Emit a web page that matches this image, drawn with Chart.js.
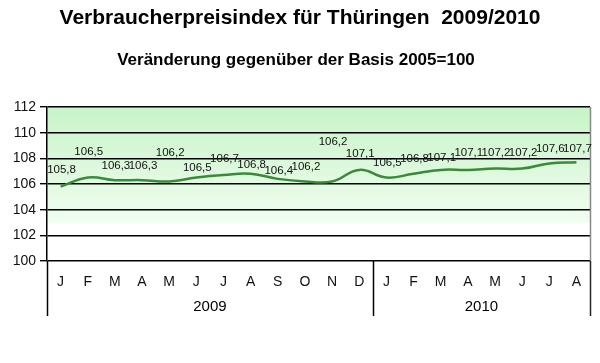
<!DOCTYPE html>
<html>
<head>
<meta charset="utf-8">
<script src="https://cdn.jsdelivr.net/npm/chart.js@4"></script>
<style>
    html, body { margin: 0; padding: 0; background: #fff; }
    #wrap { width: 600px; height: 363px; }
</style>
</head>
<body>
<div id="wrap"><canvas id="cpiChart" width="600" height="363"></canvas></div>
<script>
// Verbraucherpreisindex Thüringen, Basis 2005=100
const months = ['J', 'F', 'M', 'A', 'M', 'J', 'J', 'A', 'S', 'O', 'N', 'D',
                'J', 'F', 'M', 'A', 'M', 'J', 'J', 'A'];
const years = ['2009', '2010'];
const monthsPerYear = [12, 8];
const indexValues = [105.8, 106.5, 106.3, 106.3, 106.2, 106.5, 106.7, 106.8, 106.4, 106.2, 106.2, 107.1,
                     106.5, 106.8, 107.1, 107.1, 107.2, 107.2, 107.6, 107.7];
const yTicks = [100, 102, 104, 106, 108, 110, 112];

const titleText = 'Verbraucherpreisindex für Thüringen  2009/2010';
const subtitleText = 'Veränderung gegenüber der Basis 2005=100';

// how far each value label sits above its point (px)
const labelLift = [17, 26, 14, 14, 29, 10, 16, 9, 8, 15, 40, 16, 15, 15, 12, 17, 16, 16, 15, 13];

const decorPlugin = {
    id: 'decor',
    beforeDraw(chart) {
        const ctx = chart.ctx;
        const area = chart.chartArea;
        const y = chart.scales.y;
        const fadeEnd = y.getPixelForValue(103);
        const grad = ctx.createLinearGradient(0, area.top, 0, fadeEnd);
        grad.addColorStop(0, '#c7f4c7');
        grad.addColorStop(1, '#f1fdf1');
        ctx.save();
        ctx.fillStyle = grad;
        ctx.fillRect(area.left, area.top, area.right - area.left, fadeEnd - area.top);
        ctx.restore();
    },
    afterDraw(chart) {
        const ctx = chart.ctx;
        const area = chart.chartArea;
        const x = chart.scales.x;
        const half = (x.getPixelForValue(1) - x.getPixelForValue(0)) / 2;
        const bottom = 316;

        ctx.save();
        // titles
        ctx.fillStyle = '#000';
        ctx.textAlign = 'center';
        ctx.textBaseline = 'middle';
        ctx.font = 'bold 21px "Liberation Sans", Arial, sans-serif';
        ctx.fillText(titleText, 300, 18);
        ctx.font = 'bold 17px "Liberation Sans", Arial, sans-serif';
        ctx.fillText(subtitleText, 296, 60);

        // year groups with separators
        ctx.strokeStyle = '#000';
        ctx.lineWidth = 1.5;
        ctx.font = '15px "Liberation Sans", Arial, sans-serif';
        let start = 0;
        years.forEach((yr, i) => {
            const x0 = x.getPixelForValue(start) - half;
            const x1 = x.getPixelForValue(start + monthsPerYear[i] - 1) + half;
            ctx.beginPath();
            ctx.moveTo(Math.round(x0) + 0.5, area.bottom);
            ctx.lineTo(Math.round(x0) + 0.5, bottom);
            ctx.stroke();
            ctx.fillText(yr, (x0 + x1) / 2, 307);
            start += monthsPerYear[i];
        });
        const xEnd = Math.round(area.right) + 0.5;
        ctx.strokeStyle = '#888';
        ctx.beginPath();
        ctx.moveTo(xEnd, area.top);
        ctx.lineTo(xEnd, area.bottom);
        ctx.stroke();
        ctx.strokeStyle = '#222';
        ctx.beginPath();
        ctx.moveTo(xEnd, area.bottom);
        ctx.lineTo(xEnd, bottom);
        ctx.stroke();

        // value labels
        const meta = chart.getDatasetMeta(0);
        ctx.font = '11.5px "Liberation Sans", Arial, sans-serif';
        ctx.fillStyle = '#111';
        meta.data.forEach((pt, i) => {
            const txt = indexValues[i].toFixed(1).replace('.', ',');
            ctx.fillText(txt, pt.x + 1, pt.y - labelLift[i]);
        });
        ctx.restore();
    }
};

const ctx = document.getElementById('cpiChart');
new Chart(ctx, {
    type: 'line',
    data: {
        labels: months,
        datasets: [{
            data: indexValues,
            borderColor: '#3a8a3a',
            borderWidth: 2.5,
            tension: 0.45,
            pointRadius: 0,
            fill: false
        }]
    },
    options: {
        responsive: false,
        animation: false,
        layout: { padding: { top: 107, right: 10, left: 0, bottom: 0 } },
        plugins: {
            legend: { display: false },
            tooltip: { enabled: false }
        },
        scales: {
            x: {
                offset: true,
                grid: { display: false },
                border: { display: false },
                ticks: {
                    color: '#111',
                    font: { family: '"Liberation Sans", Arial, sans-serif', size: 14 },
                    maxRotation: 0,
                    autoSkip: false,
                    padding: 5
                },
                afterFit(scale) { scale.height = 102; }
            },
            y: {
                min: 100,
                max: 112,
                afterBuildTicks(scale) {
                    scale.ticks = yTicks.map(v => ({ value: v }));
                },
                grid: {
                    color: '#000',
                    lineWidth: 1.4,
                    tickLength: 7,
                    drawTicks: true
                },
                border: { display: true, color: '#000', width: 1.5 },
                ticks: {
                    color: '#111',
                    font: { family: '"Liberation Sans", Arial, sans-serif', size: 14 },
                    padding: 4
                },
                afterFit(scale) { scale.width = 47; }
            }
        }
    },
    plugins: [decorPlugin]
});
</script>
</body>
</html>
